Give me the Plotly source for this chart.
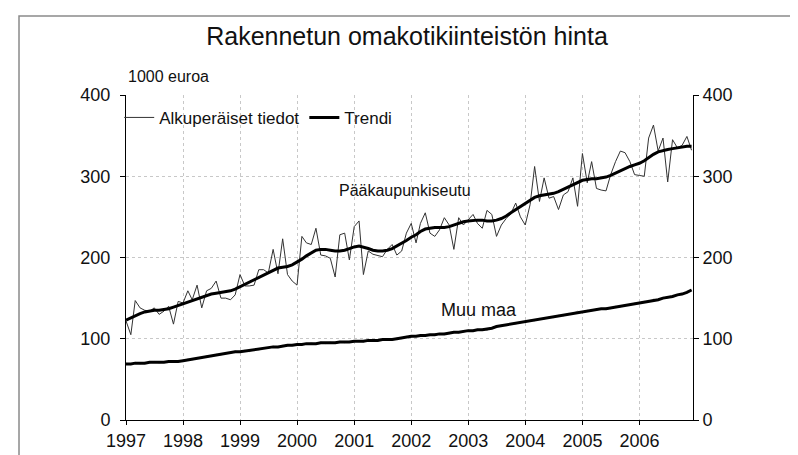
import pandas as pd
import plotly.graph_objects as go

# ---- data (1000 euros, monthly Jan 1997 .. Dec 2006) ----
months = pd.date_range("1997-01-01", periods=120, freq="MS")

paakaupunkiseutu_orig = [
    122, 105, 147, 138, 135, 134, 138, 130, 134, 140, 118, 146,
    144, 159, 148, 166, 138, 159, 162, 171, 150, 150, 148, 154,
    179, 165, 165, 166, 185, 185, 181, 210, 180, 223, 179, 171,
    166, 226, 218, 216, 236, 203, 202, 199, 176, 228, 230, 197,
    238, 245, 179, 208, 204, 202, 201, 210, 216, 203, 208, 230,
    242, 218, 242, 255, 230, 226, 234, 249, 240, 210, 249, 240,
    246, 253, 242, 236, 258, 253, 226, 240, 248, 254, 267, 250,
    240, 265, 312, 269, 298, 273, 275, 259, 277, 281, 298, 263,
    328, 292, 318, 285, 283, 282, 302, 318, 331, 329, 318, 302,
    301, 300, 347, 363, 331, 347, 293, 345, 335, 338, 349, 332,
]
paakaupunkiseutu_trend = [
    123, 126, 129, 131, 133, 134, 135, 135, 136, 137, 139, 141,
    143, 145, 147, 149, 151, 153, 155, 156, 157, 158, 159, 161,
    164, 167, 170, 173, 176, 179, 182, 185, 187, 188, 189, 191,
    194, 198, 202, 206, 209, 210, 210, 209, 208, 208, 209, 211,
    213, 214, 213, 211, 209, 208, 208, 209, 211, 214, 217, 221,
    225, 228, 232, 235, 236, 237, 237, 237, 238, 240, 242, 244,
    245, 246, 246, 246, 245, 245, 246, 248, 251, 255, 259, 263,
    267, 271, 274, 276, 277, 278, 279, 281, 284, 287, 290, 293,
    295, 296, 297, 297, 298, 299, 301, 304, 307, 310, 312, 314,
    316, 319, 323, 327, 330, 332, 333, 334, 335, 336, 337, 337,
]
muu_maa_orig = [
    70, 68, 71, 69, 71, 70, 72, 70, 72, 71, 73, 72,
    72, 75, 74, 77, 76, 79, 78, 81, 80, 83, 82, 85,
    83, 86, 84, 87, 86, 89, 88, 91, 89, 92, 91, 93,
    92, 94, 93, 95, 93, 96, 94, 96, 94, 97, 95, 97,
    96, 98, 96, 99, 97, 99, 98, 100, 98, 101, 100, 103,
    102, 104, 103, 105, 104, 106, 105, 107, 106, 109, 107, 110,
    109, 111, 110, 112, 110, 114, 114, 117, 116, 119, 118, 121,
    120, 123, 122, 125, 124, 127, 126, 129, 128, 131, 131, 134,
    132, 135, 134, 137, 136, 138, 137, 140, 139, 142, 141, 144,
    143, 146, 145, 149, 147, 151, 150, 153, 153, 156, 156, 161,
]
muu_maa_trend = [
    69, 69, 70, 70, 70, 71, 71, 71, 71, 72, 72, 72,
    73, 74, 75, 76, 77, 78, 79, 80, 81, 82, 83, 84,
    84, 85, 85, 86, 87, 88, 89, 90, 90, 91, 92, 92,
    93, 93, 94, 94, 94, 95, 95, 95, 95, 96, 96, 96,
    97, 97, 97, 98, 98, 98, 99, 99, 99, 100, 101, 102,
    103, 103, 104, 104, 105, 105, 106, 106, 107, 108, 108, 109,
    110, 110, 111, 111, 112, 113, 115, 116, 117, 118, 119, 120,
    121, 122, 123, 124, 125, 126, 127, 128, 129, 130, 131, 132,
    133, 134, 135, 136, 137, 137, 138, 139, 140, 141, 142, 143,
    144, 145, 146, 147, 148, 150, 151, 152, 154, 155, 157, 160,
]
year_ticks = [f"{y}-01-01" for y in range(1997, 2007)]
year_labels = [str(y) for y in range(1997, 2007)]
y_ticks = [0, 100, 200, 300, 400]

FONT = "Liberation Sans, Arial, sans-serif"

fig = go.Figure()
fig.add_trace(go.Scatter(x=months, y=muu_maa_orig, mode="lines",
                         line=dict(color="#b8b8b8", width=1), showlegend=False, hoverinfo="skip"))
fig.add_trace(go.Scatter(x=months, y=paakaupunkiseutu_orig, mode="lines", name="Alkuperäiset tiedot",
                         line=dict(color="#333333", width=1)))
fig.add_trace(go.Scatter(x=months, y=paakaupunkiseutu_trend, mode="lines", name="Trendi",
                         line=dict(color="#000000", width=3)))
fig.add_trace(go.Scatter(x=months, y=muu_maa_trend, mode="lines",
                         line=dict(color="#000000", width=3), showlegend=False))
# invisible trace to drive right axis
fig.add_trace(go.Scatter(x=[months[0]], y=[0], yaxis="y2", mode="markers",
                         marker=dict(opacity=0), showlegend=False, hoverinfo="skip"))

fig.update_layout(
    width=798, height=455,
    margin=dict(l=118, r=113, t=87, b=43),
    paper_bgcolor="white", plot_bgcolor="white",
    font=dict(family=FONT, size=18, color="#111111"),
    title=dict(text="Rakennetun omakotikiinteistön hinta", x=0.5, xanchor="center",
               y=0.958, yanchor="top", font=dict(size=25, family=FONT)),
    xaxis=dict(type="date", range=["1997-01-01", "2006-12-10"],
               tickvals=year_ticks, ticktext=year_labels,
               showgrid=True, gridcolor="#c8c8c8", griddash="dot", gridwidth=1,
               showline=True, linecolor="black", linewidth=1,
               ticks="outside", ticklen=4, tickcolor="black", zeroline=False),
    yaxis=dict(range=[0, 400], tickvals=y_ticks,
               showgrid=True, gridcolor="#c8c8c8", griddash="dot", gridwidth=1,
               showline=True, linecolor="black", linewidth=1,
               ticks="outside", ticklen=5, tickcolor="black", zeroline=False,
               ticklabelstandoff=6),
    yaxis2=dict(range=[0, 400], tickvals=y_ticks, overlaying="y", side="right",
                showgrid=False, showline=True, linecolor="black", linewidth=1,
                ticks="outside", ticklen=5, tickcolor="black", zeroline=False),
    legend=dict(orientation="h", x=-0.012, y=0.985, xanchor="left", yanchor="top",
                bgcolor="rgba(0,0,0,0)", font=dict(size=17, family=FONT),
                itemwidth=30, tracegroupgap=0),
    annotations=[
        dict(text="1000 euroa", xref="paper", yref="paper", x=0.0, y=1.0,
             xanchor="left", yanchor="bottom", yshift=8, showarrow=False,
             font=dict(size=16, family=FONT)),
        dict(text="Pääkaupunkiseutu", x="2001-11-20", y=283, xref="x", yref="y",
             showarrow=False, font=dict(size=16, family=FONT)),
        dict(text="Muu maa", x="2003-03-10", y=135, xref="x", yref="y",
             showarrow=False, font=dict(size=18, family=FONT)),
    ],
    shapes=[dict(type="rect", xref="paper", yref="paper",
                 x0=-0.1887, x1=1.1905, y0=-0.2, y1=1.243,
                 line=dict(color="#8a8a8a", width=1.5), layer="above")],
    showlegend=True,
)

fig.write_html("out.html")
